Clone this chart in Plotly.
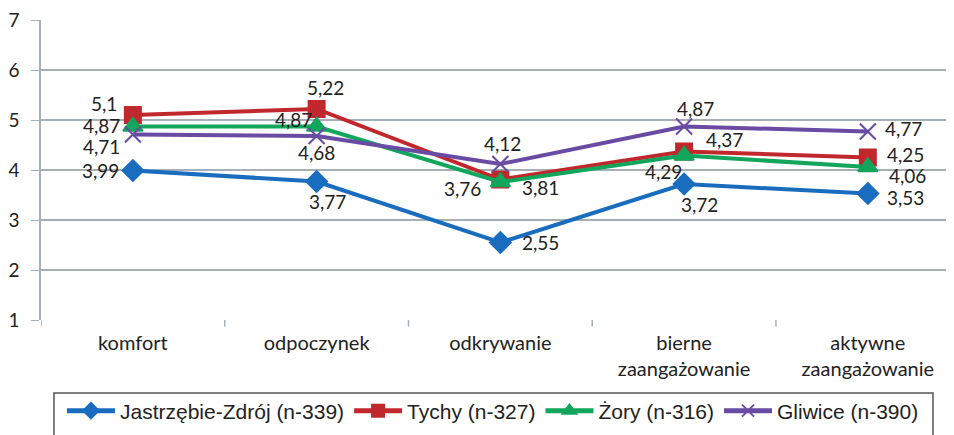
import plotly.graph_objects as go

categories = ["komfort", "odpoczynek", "odkrywanie", "bierne<br>zaangażowanie", "aktywne<br>zaangażowanie"]
series_names = ["Jastrzębie-Zdrój (n-339)", "Tychy (n-327)", "Żory (n-316)", "Gliwice (n-390)"]
jastrzebie = [3.99, 3.77, 2.55, 3.72, 3.53]
tychy = [5.10, 5.22, 3.81, 4.37, 4.25]
zory = [4.87, 4.87, 3.76, 4.29, 4.06]
gliwice = [4.71, 4.68, 4.12, 4.87, 4.77]
y_ticks = [1, 2, 3, 4, 5, 6, 7]

colors = ["#1A6DBE", "#C0282E", "#12A55C", "#6A4BA3"]
symbols = ["diamond", "square", "triangle-up", "x-thin"]
sizes = [16, 16, 17, 16]

# label placement: (anchor, dx px, dy px downward)
label_offsets = [
    [("right", -12, 0), ("center", 11, 20), ("left", 20, 0), ("center", 15, 20), ("left", 17, 4)],
    [("right", -14, -12), ("center", 9, -22), ("left", 20, 8), ("left", 20, -12), ("left", 17, -3)],
    [("right", -11, -1), ("right", -3, -7), ("right", -17, 6), ("right", 0, 16), ("left", 19, 8)],
    [("right", -11, 12), ("center", 0, 16), ("center", 2, -21), ("center", 11, -18), ("left", 15, -3)],
]

def fmt(v):
    s = ("%.2f" % v).rstrip("0").rstrip(".")
    return s.replace(".", ",")

NARROW = "Liberation Sans Narrow, Arial Narrow, sans-serif"
HUMAN = "Lato, Open Sans, sans-serif"

fig = go.Figure()
all_series = [jastrzebie, tychy, zory, gliwice]
for name, vals, c, sym, sz in zip(series_names, all_series, colors, symbols, sizes):
    fig.add_trace(go.Scatter(
        x=categories, y=vals, name=name, mode="lines+markers",
        line=dict(color=c, width=4),
        marker=dict(symbol=sym, size=sz, color=c, line=dict(color=c, width=2)),
        cliponaxis=False,
    ))

for vals, offs in zip(all_series, label_offsets):
    for cat, v, (anc, dx, dy) in zip(categories, vals, offs):
        fig.add_annotation(x=cat, y=v, xref="x", yref="y", text=fmt(v), showarrow=False,
                           xanchor=anc, yanchor="middle", xshift=dx, yshift=-dy,
                           font=dict(family=HUMAN, size=19, color="#222222"))

fig.update_layout(
    width=946, height=427,
    margin=dict(l=33, r=0, t=12, b=115, autoexpand=False),
    paper_bgcolor="white", plot_bgcolor="white",
    showlegend=True,
    legend=dict(orientation="h", x=0.023, xanchor="left", y=-0.235, yanchor="top",
                font=dict(family=NARROW, size=21, color="#222222"),
                itemsizing="constant", itemwidth=48, tracegroupgap=0,
                bgcolor="rgba(0,0,0,0)"),
    xaxis=dict(showgrid=False, showline=False, ticks="", automargin=False,
               tickfont=dict(family=HUMAN, size=20, color="#222222"),
               ticklabelstandoff=9, range=[-0.5, 4.469]),
    yaxis=dict(range=[1, 7], tickvals=y_ticks, showgrid=True, gridcolor="#A6AEB6", gridwidth=1.5,
               showline=True, linecolor="#A6AEB6", linewidth=1.5, ticks="outside", ticklen=8,
               tickcolor="#A6AEB6", automargin=False, ticklabelstandoff=8, ticklabeloverflow="allow",
               tickfont=dict(family=HUMAN, size=19, color="#222222"), zeroline=False),
    shapes=[
        dict(type="rect", xref="paper", yref="paper", x0=0.0142, x1=0.977, y0=-0.2433, y1=-0.45,
             line=dict(color="#555555", width=1.5), fillcolor="rgba(0,0,0,0)"),
    ],
)
for i in range(6):
    fig.add_shape(type="line", xref="x", yref="paper", x0=i - 0.5, x1=i - 0.5, y0=0, y1=-0.022,
                  line=dict(color="#A6AEB6", width=1.5))

fig.write_html("out.html")
